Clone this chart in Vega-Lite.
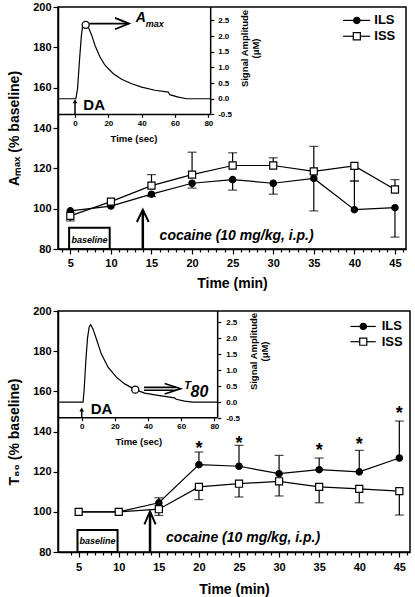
{
 "$schema": "https://vega.github.io/schema/vega-lite/v6.json",
 "background": "white",
 "padding": {"left": 6, "top": 0, "right": 2, "bottom": 2},
 "config": {
  "font": "Liberation Sans",
  "view": {"stroke": "black", "strokeWidth": 1.5},
  "axis": {"domainColor": "black", "domainWidth": 1.5, "tickColor": "black", "tickWidth": 1.2, "labelColor": "black", "titleColor": "black", "labelFont": "Liberation Sans", "titleFont": "Liberation Sans", "labelFontWeight": "bold", "titleFontWeight": "bold", "grid": false}
 },
 "datasets": {
  "amax": [
   {"t": 5, "g": "ILS", "v": 98.9, "e": null},
   {"t": 10, "g": "ILS", "v": 101.3, "e": null},
   {"t": 15, "g": "ILS", "v": 107.2, "e": 106.0},
   {"t": 20, "g": "ILS", "v": 112.6, "e": 110.2},
   {"t": 25, "g": "ILS", "v": 114.4, "e": 109.2},
   {"t": 30, "g": "ILS", "v": 112.6, "e": 107.2},
   {"t": 35, "g": "ILS", "v": 115.0, "e": 98.9},
   {"t": 40, "g": "ILS", "v": 99.5, "e": 113.7},
   {"t": 45, "g": "ILS", "v": 100.5, "e": 85.9},
   {"t": 5, "g": "ISS", "v": 96.4, "e": 93.9},
   {"t": 10, "g": "ISS", "v": 103.5, "e": null},
   {"t": 15, "g": "ISS", "v": 111.4, "e": 116.9},
   {"t": 20, "g": "ISS", "v": 116.9, "e": 128.0},
   {"t": 25, "g": "ISS", "v": 121.4, "e": 127.7},
   {"t": 30, "g": "ISS", "v": 121.4, "e": 125.2},
   {"t": 35, "g": "ISS", "v": 118.5, "e": 130.9},
   {"t": 40, "g": "ISS", "v": 121.2, "e": 113.7},
   {"t": 45, "g": "ISS", "v": 109.5, "e": 114.4}
  ],
  "t80": [
   {"t": 5, "g": "ILS", "v": 100, "e": null},
   {"t": 10, "g": "ILS", "v": 100, "e": null},
   {"t": 15, "g": "ILS", "v": 104.5, "e": 107.0},
   {"t": 20, "g": "ILS", "v": 123.5, "e": 129.8},
   {"t": 25, "g": "ILS", "v": 122.7, "e": 133.1},
   {"t": 30, "g": "ILS", "v": 119.0, "e": 128.1},
   {"t": 35, "g": "ILS", "v": 121.0, "e": 126.8},
   {"t": 40, "g": "ILS", "v": 119.9, "e": 130.6},
   {"t": 45, "g": "ILS", "v": 126.8, "e": 145.2},
   {"t": 5, "g": "ISS", "v": 100, "e": null},
   {"t": 10, "g": "ISS", "v": 100, "e": null},
   {"t": 15, "g": "ISS", "v": 101.3, "e": 98.2},
   {"t": 20, "g": "ISS", "v": 112.4, "e": 106.1},
   {"t": 25, "g": "ISS", "v": 114.0, "e": 107.4},
   {"t": 30, "g": "ISS", "v": 115.2, "e": 107.9},
   {"t": 35, "g": "ISS", "v": 112.4, "e": 104.5},
   {"t": 40, "g": "ISS", "v": 111.4, "e": 104.5},
   {"t": 45, "g": "ISS", "v": 110.3, "e": 98.4}
  ],
  "stars": [
   {"t": 20, "v": 133.4, "label": "*"},
   {"t": 25, "v": 135.9, "label": "*"},
   {"t": 35, "v": 132.3, "label": "*"},
   {"t": 40, "v": 135.1, "label": "*"},
   {"t": 45, "v": 150.5, "label": "*"}
  ],
  "trace1": [
   {"s": -9.5, "a": 0}, {"s": 0.5, "a": 0}, {"s": 1.5, "a": 0.3}, {"s": 2.8, "a": 1.3}, {"s": 3.8, "a": 2.0}, {"s": 4.6, "a": 2.33}, {"s": 5.8, "a": 2.4}, {"s": 8, "a": 2.29}, {"s": 10, "a": 2.03}, {"s": 12, "a": 1.7}, {"s": 15, "a": 1.33}, {"s": 18, "a": 1.07}, {"s": 23, "a": 0.8}, {"s": 28, "a": 0.62}, {"s": 34, "a": 0.48}, {"s": 40, "a": 0.37}, {"s": 48, "a": 0.27}, {"s": 56, "a": 0.21}, {"s": 56.8, "a": 0.13}, {"s": 62, "a": 0.05}, {"s": 67, "a": 0}, {"s": 81.4, "a": 0}
  ],
  "trace2": [
   {"s": -13.5, "a": 0}, {"s": 0.8, "a": 0}, {"s": 1.5, "a": 0.4}, {"s": 2.5, "a": 1.3}, {"s": 3.5, "a": 2.0}, {"s": 4.5, "a": 2.35}, {"s": 5.4, "a": 2.42}, {"s": 6.8, "a": 2.29}, {"s": 8.8, "a": 1.98}, {"s": 11.8, "a": 1.51}, {"s": 15.9, "a": 1.09}, {"s": 20.9, "a": 0.78}, {"s": 25.9, "a": 0.57}, {"s": 32.3, "a": 0.39}, {"s": 38, "a": 0.28}, {"s": 46, "a": 0.21}, {"s": 56, "a": 0.13}, {"s": 57, "a": 0.09}, {"s": 62, "a": 0.03}, {"s": 67, "a": 0}, {"s": 82, "a": 0}
  ],
  "minor": [
   {"t": 4}, {"t": 6}, {"t": 7}, {"t": 8}, {"t": 9}, {"t": 11}, {"t": 12}, {"t": 13}, {"t": 14}, {"t": 16}, {"t": 17}, {"t": 18}, {"t": 19}, {"t": 21}, {"t": 22}, {"t": 23}, {"t": 24}, {"t": 26}, {"t": 27}, {"t": 28}, {"t": 29}, {"t": 31}, {"t": 32}, {"t": 33}, {"t": 34}, {"t": 36}, {"t": 37}, {"t": 38}, {"t": 39}, {"t": 41}, {"t": 42}, {"t": 43}, {"t": 44}, {"t": 46}
  ]
 },
 "concat": [
  {
   "width": 348, "height": 242,
   "resolve": {"scale": {"x": "independent", "y": "independent"}},
   "layer": [
    {
     "layer": [
      {"data": {"name": "amax"}, "mark": {"type": "line", "color": "black", "strokeWidth": 1.2},
       "encoding": {
        "x": {"field": "t", "type": "quantitative", "scale": {"domain": [3.48, 46.36], "nice": false, "zero": false},
              "axis": {"orient": "bottom", "values": [5, 10, 15, 20, 25, 30, 35, 40, 45], "tickSize": 5, "labelFontSize": 11, "labelPadding": 3, "title": "Time (min)", "titleFontSize": 14, "titlePadding": 8}},
        "y": {"field": "v", "type": "quantitative", "scale": {"domain": [80, 200], "nice": false, "zero": false},
              "axis": {"orient": "left", "values": [80, 100, 120, 140, 160, 180, 200], "tickSize": 5, "labelFontSize": 11, "labelPadding": 2, "title": "Aₘₐₓ (% baseline)", "titleFontSize": 14, "titlePadding": 11}},
        "detail": {"field": "g"}
       }},
      {"data": {"name": "amax"}, "transform": [{"filter": "datum.e != null"}], "mark": {"type": "rule", "color": "black", "strokeWidth": 1.2},
       "encoding": {"x": {"field": "t", "type": "quantitative"}, "y": {"field": "v", "type": "quantitative"}, "y2": {"field": "e"}}},
      {"data": {"name": "amax"}, "transform": [{"filter": "datum.e != null"}], "mark": {"type": "tick", "orient": "horizontal", "color": "black", "size": 9, "thickness": 1.2},
       "encoding": {"x": {"field": "t", "type": "quantitative"}, "y": {"field": "e", "type": "quantitative"}}},
      {"data": {"name": "amax"}, "mark": {"type": "point", "filled": true, "stroke": "black", "strokeWidth": 1.2, "opacity": 1},
       "encoding": {"x": {"field": "t", "type": "quantitative"}, "y": {"field": "v", "type": "quantitative"},
        "shape": {"field": "g", "type": "nominal", "scale": {"domain": ["ILS", "ISS"], "range": ["circle", "square"]}, "legend": null},
        "fill": {"field": "g", "type": "nominal", "scale": {"domain": ["ILS", "ISS"], "range": ["black", "white"]}, "legend": null},
        "size": {"field": "g", "type": "nominal", "scale": {"domain": ["ILS", "ISS"], "range": [40, 50]}, "legend": null}}},
      {"data": {"values": [{"t": 4.85, "t2": 9.85, "v": 80, "v2": 90.5}]}, "mark": {"type": "rect", "fill": "white", "stroke": "black", "strokeWidth": 2},
       "encoding": {"x": {"field": "t", "type": "quantitative"}, "x2": {"field": "t2"}, "y": {"field": "v", "type": "quantitative"}, "y2": {"field": "v2"}}},
      {"data": {"values": [{"t": 7.35, "v": 84.6, "label": "baseline"}]}, "mark": {"type": "text", "fontSize": 9, "fontWeight": "bold", "fontStyle": "italic", "align": "center", "baseline": "middle", "color": "black"},
       "encoding": {"x": {"field": "t", "type": "quantitative"}, "y": {"field": "v", "type": "quantitative"}, "text": {"field": "label"}}},
      {"data": {"values": [{"t": 13.93, "v": 80, "v2": 99.2}]}, "mark": {"type": "rule", "color": "black", "strokeWidth": 2.5},
       "encoding": {"x": {"field": "t", "type": "quantitative"}, "y": {"field": "v", "type": "quantitative"}, "y2": {"field": "v2"}}},
      {"data": {"values": [{"t": 13.2, "v": 93.4, "o": 1}, {"t": 13.93, "v": 99.4, "o": 2}, {"t": 14.66, "v": 93.4, "o": 3}]}, "mark": {"type": "line", "color": "black", "strokeWidth": 2},
       "encoding": {"x": {"field": "t", "type": "quantitative"}, "y": {"field": "v", "type": "quantitative"}, "order": {"field": "o"}}},
      {"data": {"values": [{"t": 16.0, "v": 86.3, "label": "cocaine (10 mg/kg, i.p.)"}]}, "mark": {"type": "text", "fontSize": 14, "fontWeight": "bold", "fontStyle": "italic", "align": "left", "baseline": "middle", "color": "black"},
       "encoding": {"x": {"field": "t", "type": "quantitative"}, "y": {"field": "v", "type": "quantitative"}, "text": {"field": "label"}}},
      {"data": {"values": [{"g": "ILS", "t": 38.6, "t2": 41.95, "v": 193.35}, {"g": "ISS", "t": 38.6, "t2": 41.95, "v": 185.5}]}, "mark": {"type": "rule", "color": "black", "strokeWidth": 1.2},
       "encoding": {"x": {"field": "t", "type": "quantitative"}, "x2": {"field": "t2"}, "y": {"field": "v", "type": "quantitative"}}},
      {"data": {"values": [{"g": "ILS", "t": 40.3, "v": 193.35}, {"g": "ISS", "t": 40.3, "v": 185.5}]}, "mark": {"type": "point", "filled": true, "stroke": "black", "strokeWidth": 1.2, "opacity": 1},
       "encoding": {"x": {"field": "t", "type": "quantitative"}, "y": {"field": "v", "type": "quantitative"},
        "shape": {"field": "g", "type": "nominal", "legend": null}, "fill": {"field": "g", "type": "nominal", "legend": null}, "size": {"field": "g", "type": "nominal", "legend": null}}},
      {"data": {"values": [{"t": 42.45, "v": 193.35, "label": "ILS"}, {"t": 42.45, "v": 185.5, "label": "ISS"}]}, "mark": {"type": "text", "fontSize": 13, "fontWeight": "bold", "align": "left", "baseline": "middle", "color": "black"},
       "encoding": {"x": {"field": "t", "type": "quantitative"}, "y": {"field": "v", "type": "quantitative"}, "text": {"field": "label"}}}
     ]
    },
    {
     "data": {"name": "minor"}, "mark": {"type": "point", "opacity": 0},
     "encoding": {
      "x": {"field": "t", "type": "quantitative", "scale": {"domain": [3.48, 46.36], "nice": false, "zero": false},
            "axis": {"orient": "bottom", "values": [4, 6, 7, 8, 9, 11, 12, 13, 14, 16, 17, 18, 19, 21, 22, 23, 24, 26, 27, 28, 29, 31, 32, 33, 34, 36, 37, 38, 39, 41, 42, 43, 44, 46], "labels": false, "domain": false, "tickSize": 3, "title": null}},
      "y": {"datum": 100, "type": "quantitative", "scale": {"domain": [80, 200]}, "axis": null}
     }
    },
    {
     "layer": [
      {"data": {"name": "trace1"}, "mark": {"type": "line", "color": "black", "strokeWidth": 1.2},
       "encoding": {
        "x": {"field": "s", "type": "quantitative", "scale": {"domain": [-10.2, 198.6], "nice": false, "zero": false},
              "axis": {"orient": "bottom", "offset": -134.7, "values": [0, 20, 40, 60, 80], "domain": false, "tickSize": 3, "labelFontSize": 8, "labelPadding": 2, "title": "Time (sec)", "titleFontSize": 9.5, "titleX": 75.5, "titleY": 24, "titleAlign": "center", "titleBaseline": "middle"}},
        "y": {"field": "a", "type": "quantitative", "scale": {"domain": [-4.8, 2.93], "nice": false, "zero": false},
              "axis": {"orient": "right", "offset": -195.3, "values": [-0.5, 0, 0.5, 1, 1.5, 2, 2.5], "labelExpr": "datum.value < 0 ? '-' + format(-datum.value, '.1f') : format(datum.value, '.1f')", "domain": false, "tickSize": 3, "labelFontSize": 8, "labelPadding": 4, "title": ["Signal Amplitude", "(μM)"], "titleFontSize": 9.5, "titleAngle": 270, "titleX": 34, "titleY": 41, "titleAlign": "center", "titleBaseline": "middle", "titleLineHeight": 11}}
       }},
      {"data": {"values": [{"s": 81.4, "a": -0.5, "a2": 2.93}]}, "mark": {"type": "rule", "color": "black", "strokeWidth": 1.5},
       "encoding": {"x": {"field": "s", "type": "quantitative"}, "y": {"field": "a", "type": "quantitative"}, "y2": {"field": "a2"}}},
      {"data": {"values": [{"s": -10.2, "s2": 81.4, "a": -0.5}]}, "mark": {"type": "rule", "color": "black", "strokeWidth": 1.5},
       "encoding": {"x": {"field": "s", "type": "quantitative"}, "x2": {"field": "s2"}, "y": {"field": "a", "type": "quantitative"}}},
      {"data": {"values": [{"s": 8.6, "a": 2.4, "k": "shaft", "o": 1}, {"s": 32.4, "a": 2.4, "k": "shaft", "o": 2}, {"s": 24, "a": 2.58, "k": "head", "o": 1}, {"s": 32.4, "a": 2.4, "k": "head", "o": 2}, {"s": 24, "a": 2.22, "k": "head", "o": 3}]},
       "mark": {"type": "line", "color": "black", "strokeWidth": 1.8},
       "encoding": {"x": {"field": "s", "type": "quantitative"}, "y": {"field": "a", "type": "quantitative"}, "detail": {"field": "k"}, "order": {"field": "o"}}},
      {"data": {"values": [{"s": 6.4, "a": 2.36}]}, "mark": {"type": "point", "filled": true, "fill": "white", "stroke": "black", "strokeWidth": 1.3, "size": 50, "opacity": 1},
       "encoding": {"x": {"field": "s", "type": "quantitative"}, "y": {"field": "a", "type": "quantitative"}}},
      {"data": {"values": [{"s": 0, "a": -0.5, "a2": -0.1}]}, "mark": {"type": "rule", "color": "black", "strokeWidth": 1.5},
       "encoding": {"x": {"field": "s", "type": "quantitative"}, "y": {"field": "a", "type": "quantitative"}, "y2": {"field": "a2"}}},
      {"data": {"values": [{"s": 0, "a": -0.08}]}, "mark": {"type": "point", "shape": "triangle-up", "filled": true, "color": "black", "size": 22, "opacity": 1},
       "encoding": {"x": {"field": "s", "type": "quantitative"}, "y": {"field": "a", "type": "quantitative"}}},
      {"data": {"values": [{"s": 5, "a": -0.21, "label": "DA"}]}, "mark": {"type": "text", "fontSize": 15, "fontWeight": "bold", "align": "left", "baseline": "middle", "color": "black"},
       "encoding": {"x": {"field": "s", "type": "quantitative"}, "y": {"field": "a", "type": "quantitative"}, "text": {"field": "label"}}},
      {"data": {"values": [{"s": 36.5, "a": 2.59, "label": "A"}]}, "mark": {"type": "text", "fontSize": 14, "fontWeight": "bold", "fontStyle": "italic", "align": "left", "baseline": "middle", "color": "black"},
       "encoding": {"x": {"field": "s", "type": "quantitative"}, "y": {"field": "a", "type": "quantitative"}, "text": {"field": "label"}}},
      {"data": {"values": [{"s": 42.4, "a": 2.4, "label": "max"}]}, "mark": {"type": "text", "fontSize": 9, "fontWeight": "bold", "fontStyle": "italic", "align": "left", "baseline": "middle", "color": "black"},
       "encoding": {"x": {"field": "s", "type": "quantitative"}, "y": {"field": "a", "type": "quantitative"}, "text": {"field": "label"}}}
     ]
    }
   ]
  },
  {
   "width": 352, "height": 241,
   "resolve": {"scale": {"x": "independent", "y": "independent"}},
   "layer": [
    {
     "layer": [
      {"data": {"name": "t80"}, "mark": {"type": "line", "color": "black", "strokeWidth": 1.2},
       "encoding": {
        "x": {"field": "t", "type": "quantitative", "scale": {"domain": [2.42, 46.33], "nice": false, "zero": false},
              "axis": {"orient": "bottom", "values": [5, 10, 15, 20, 25, 30, 35, 40, 45], "tickSize": 5, "labelFontSize": 11, "labelPadding": 4, "title": "Time (min)", "titleFontSize": 14, "titlePadding": 10}},
        "y": {"field": "v", "type": "quantitative", "scale": {"domain": [80, 200], "nice": false, "zero": false},
              "axis": {"orient": "left", "values": [80, 100, 120, 140, 160, 180, 200], "tickSize": 5, "labelFontSize": 11, "labelPadding": 2, "title": "T₈₀ (% baseline)", "titleFontSize": 14, "titlePadding": 11}},
        "detail": {"field": "g"}
       }},
      {"data": {"name": "t80"}, "transform": [{"filter": "datum.e != null"}], "mark": {"type": "rule", "color": "black", "strokeWidth": 1.2},
       "encoding": {"x": {"field": "t", "type": "quantitative"}, "y": {"field": "v", "type": "quantitative"}, "y2": {"field": "e"}}},
      {"data": {"name": "t80"}, "transform": [{"filter": "datum.e != null"}], "mark": {"type": "tick", "orient": "horizontal", "color": "black", "size": 9, "thickness": 1.2},
       "encoding": {"x": {"field": "t", "type": "quantitative"}, "y": {"field": "e", "type": "quantitative"}}},
      {"data": {"name": "t80"}, "mark": {"type": "point", "filled": true, "stroke": "black", "strokeWidth": 1.2, "opacity": 1},
       "encoding": {"x": {"field": "t", "type": "quantitative"}, "y": {"field": "v", "type": "quantitative"},
        "shape": {"field": "g", "type": "nominal", "scale": {"domain": ["ILS", "ISS"], "range": ["circle", "square"]}, "legend": null},
        "fill": {"field": "g", "type": "nominal", "scale": {"domain": ["ILS", "ISS"], "range": ["black", "white"]}, "legend": null},
        "size": {"field": "g", "type": "nominal", "scale": {"domain": ["ILS", "ISS"], "range": [40, 50]}, "legend": null}}},
      {"data": {"name": "stars"}, "mark": {"type": "text", "fontSize": 18, "fontWeight": "bold", "align": "center", "baseline": "middle", "dy": 4, "color": "black"},
       "encoding": {"x": {"field": "t", "type": "quantitative"}, "y": {"field": "v", "type": "quantitative"}, "text": {"field": "label"}}},
      {"data": {"values": [{"t": 4.85, "t2": 9.85, "v": 80, "v2": 90.9}]}, "mark": {"type": "rect", "fill": "white", "stroke": "black", "strokeWidth": 2},
       "encoding": {"x": {"field": "t", "type": "quantitative"}, "x2": {"field": "t2"}, "y": {"field": "v", "type": "quantitative"}, "y2": {"field": "v2"}}},
      {"data": {"values": [{"t": 7.35, "v": 85.3, "label": "baseline"}]}, "mark": {"type": "text", "fontSize": 9, "fontWeight": "bold", "fontStyle": "italic", "align": "center", "baseline": "middle", "color": "black"},
       "encoding": {"x": {"field": "t", "type": "quantitative"}, "y": {"field": "v", "type": "quantitative"}, "text": {"field": "label"}}},
      {"data": {"values": [{"t": 13.9, "v": 80, "v2": 99.9}]}, "mark": {"type": "rule", "color": "black", "strokeWidth": 2.5},
       "encoding": {"x": {"field": "t", "type": "quantitative"}, "y": {"field": "v", "type": "quantitative"}, "y2": {"field": "v2"}}},
      {"data": {"values": [{"t": 13.2, "v": 93.8, "o": 1}, {"t": 13.9, "v": 100.2, "o": 2}, {"t": 14.6, "v": 93.8, "o": 3}]}, "mark": {"type": "line", "color": "black", "strokeWidth": 2},
       "encoding": {"x": {"field": "t", "type": "quantitative"}, "y": {"field": "v", "type": "quantitative"}, "order": {"field": "o"}}},
      {"data": {"values": [{"t": 15.9, "v": 87.1, "label": "cocaine (10 mg/kg, i.p.)"}]}, "mark": {"type": "text", "fontSize": 14, "fontWeight": "bold", "fontStyle": "italic", "align": "left", "baseline": "middle", "color": "black"},
       "encoding": {"x": {"field": "t", "type": "quantitative"}, "y": {"field": "v", "type": "quantitative"}, "text": {"field": "label"}}},
      {"data": {"values": [{"g": "ILS", "t": 38.9, "t2": 42.06, "v": 192.3}, {"g": "ISS", "t": 38.9, "t2": 42.06, "v": 184.7}]}, "mark": {"type": "rule", "color": "black", "strokeWidth": 1.2},
       "encoding": {"x": {"field": "t", "type": "quantitative"}, "x2": {"field": "t2"}, "y": {"field": "v", "type": "quantitative"}}},
      {"data": {"values": [{"g": "ILS", "t": 40.5, "v": 192.3}, {"g": "ISS", "t": 40.5, "v": 184.7}]}, "mark": {"type": "point", "filled": true, "stroke": "black", "strokeWidth": 1.2, "opacity": 1},
       "encoding": {"x": {"field": "t", "type": "quantitative"}, "y": {"field": "v", "type": "quantitative"},
        "shape": {"field": "g", "type": "nominal", "legend": null}, "fill": {"field": "g", "type": "nominal", "legend": null}, "size": {"field": "g", "type": "nominal", "legend": null}}},
      {"data": {"values": [{"t": 42.8, "v": 192.3, "label": "ILS"}, {"t": 42.8, "v": 184.7, "label": "ISS"}]}, "mark": {"type": "text", "fontSize": 13, "fontWeight": "bold", "align": "left", "baseline": "middle", "color": "black"},
       "encoding": {"x": {"field": "t", "type": "quantitative"}, "y": {"field": "v", "type": "quantitative"}, "text": {"field": "label"}}}
     ]
    },
    {
     "data": {"name": "minor"}, "mark": {"type": "point", "opacity": 0},
     "encoding": {
      "x": {"field": "t", "type": "quantitative", "scale": {"domain": [2.42, 46.33], "nice": false, "zero": false},
            "axis": {"orient": "bottom", "values": [4, 6, 7, 8, 9, 11, 12, 13, 14, 16, 17, 18, 19, 21, 22, 23, 24, 26, 27, 28, 29, 31, 32, 33, 34, 36, 37, 38, 39, 41, 42, 43, 44, 46], "labels": false, "domain": false, "tickSize": 3, "title": null}},
      "y": {"datum": 100, "type": "quantitative", "scale": {"domain": [80, 200]}, "axis": null}
     }
    },
    {
     "layer": [
      {"data": {"name": "trace2"}, "mark": {"type": "line", "color": "black", "strokeWidth": 1.2},
       "encoding": {
        "x": {"field": "s", "type": "quantitative", "scale": {"domain": [-14.3, 198.0], "nice": false, "zero": false},
              "axis": {"orient": "bottom", "offset": -134.3, "values": [0, 20, 40, 60, 80], "domain": false, "tickSize": 3, "labelFontSize": 8, "labelPadding": 2, "title": "Time (sec)", "titleFontSize": 9.5, "titleX": 80.3, "titleY": 24, "titleAlign": "center", "titleBaseline": "middle"}},
        "y": {"field": "a", "type": "quantitative", "scale": {"domain": [-4.69, 2.85], "nice": false, "zero": false},
              "axis": {"orient": "right", "offset": -192.3, "values": [-0.5, 0, 0.5, 1, 1.5, 2, 2.5], "labelExpr": "datum.value < 0 ? '-' + format(-datum.value, '.1f') : format(datum.value, '.1f')", "domain": false, "tickSize": 3, "labelFontSize": 8, "labelPadding": 5, "title": ["Signal Amplitude", "(μM)"], "titleFontSize": 9.5, "titleAngle": 270, "titleX": 36, "titleY": 40, "titleAlign": "center", "titleBaseline": "middle", "titleLineHeight": 11}}
       }},
      {"data": {"values": [{"s": 82.0, "a": -0.49, "a2": 2.85}]}, "mark": {"type": "rule", "color": "black", "strokeWidth": 1.5},
       "encoding": {"x": {"field": "s", "type": "quantitative"}, "y": {"field": "a", "type": "quantitative"}, "y2": {"field": "a2"}}},
      {"data": {"values": [{"s": -14.3, "s2": 82.0, "a": -0.49}]}, "mark": {"type": "rule", "color": "black", "strokeWidth": 1.5},
       "encoding": {"x": {"field": "s", "type": "quantitative"}, "x2": {"field": "s2"}, "y": {"field": "a", "type": "quantitative"}}},
      {"data": {"values": [{"s": 37.6, "a": 0.46, "k": "s1", "o": 1}, {"s": 57, "a": 0.46, "k": "s1", "o": 2}, {"s": 37.6, "a": 0.37, "k": "s2", "o": 1}, {"s": 57, "a": 0.37, "k": "s2", "o": 2}, {"s": 50, "a": 0.58, "k": "head", "o": 1}, {"s": 59.7, "a": 0.42, "k": "head", "o": 2}, {"s": 50, "a": 0.25, "k": "head", "o": 3}]},
       "mark": {"type": "line", "color": "black", "strokeWidth": 1.6},
       "encoding": {"x": {"field": "s", "type": "quantitative"}, "y": {"field": "a", "type": "quantitative"}, "detail": {"field": "k"}, "order": {"field": "o"}}},
      {"data": {"values": [{"s": 32.3, "a": 0.39}]}, "mark": {"type": "point", "filled": true, "fill": "white", "stroke": "black", "strokeWidth": 1.3, "size": 50, "opacity": 1},
       "encoding": {"x": {"field": "s", "type": "quantitative"}, "y": {"field": "a", "type": "quantitative"}}},
      {"data": {"values": [{"s": 0, "a": -0.49, "a2": -0.25}]}, "mark": {"type": "rule", "color": "black", "strokeWidth": 1.5},
       "encoding": {"x": {"field": "s", "type": "quantitative"}, "y": {"field": "a", "type": "quantitative"}, "y2": {"field": "a2"}}},
      {"data": {"values": [{"s": 0, "a": -0.23}]}, "mark": {"type": "point", "shape": "triangle-up", "filled": true, "color": "black", "size": 22, "opacity": 1},
       "encoding": {"x": {"field": "s", "type": "quantitative"}, "y": {"field": "a", "type": "quantitative"}}},
      {"data": {"values": [{"s": 5.4, "a": -0.23, "label": "DA"}]}, "mark": {"type": "text", "fontSize": 15, "fontWeight": "bold", "align": "left", "baseline": "middle", "color": "black"},
       "encoding": {"x": {"field": "s", "type": "quantitative"}, "y": {"field": "a", "type": "quantitative"}, "text": {"field": "label"}}},
      {"data": {"values": [{"s": 61.8, "a": 0.5, "label": "T"}]}, "mark": {"type": "text", "fontSize": 11, "fontWeight": "bold", "fontStyle": "italic", "align": "left", "baseline": "middle", "color": "black"},
       "encoding": {"x": {"field": "s", "type": "quantitative"}, "y": {"field": "a", "type": "quantitative"}, "text": {"field": "label"}}},
      {"data": {"values": [{"s": 65.6, "a": 0.33, "label": "80"}]}, "mark": {"type": "text", "fontSize": 16, "fontWeight": "bold", "fontStyle": "italic", "align": "left", "baseline": "middle", "color": "black"},
       "encoding": {"x": {"field": "s", "type": "quantitative"}, "y": {"field": "a", "type": "quantitative"}, "text": {"field": "label"}}}
     ]
    }
   ]
  }
 ],
 "columns": 1,
 "align": "none",
 "spacing": 13
}
